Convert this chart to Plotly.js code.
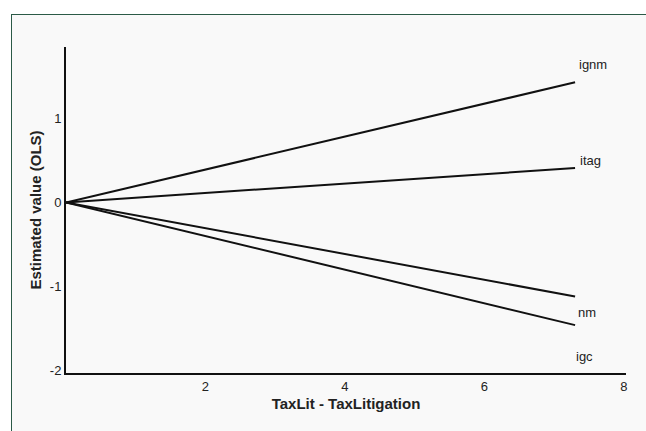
<!DOCTYPE html>
<html>
<head>
<meta charset="utf-8">
<script src="https://cdn.plot.ly/plotly-3.0.1.min.js"></script>
<style>
  html, body { margin:0; padding:0; background:#ffffff; }
  #frame { position:absolute; left:11px; top:14px; width:700px; height:500px; border:1.5px solid #2b5a47; background:#f9f9f9; }
  #chart { position:absolute; left:0; top:0; width:646px; height:431px; }
</style>
</head>
<body>
<div id="frame"></div>
<div id="chart"></div>
<script>
// Data
const seriesNames = ["ignm", "itag", "nm", "igc"];
const xValues = [0, 7.3];
const ignmValues = [0, 1.43];
const itagValues = [0, 0.41];
const nmValues = [0, -1.12];
const igcValues = [0, -1.46];
const labelX = [7.56, 7.52, 7.47, 7.44];
const labelY = [1.64, 0.5, -1.31, -1.83];
const xTicks = [2, 4, 6, 8];
const yTicks = [-2, -1, 0, 1];

const FONT = "Liberation Sans, Arial, sans-serif";
const allValues = [ignmValues, itagValues, nmValues, igcValues];
const traces = allValues.map((v, i) => ({
  x: xValues, y: v, type: "scatter", mode: "lines", name: seriesNames[i],
  line: { color: "#111111", width: 2 }, hoverinfo: "skip"
}));

const annotations = seriesNames.map((n, i) => ({
  x: labelX[i], y: labelY[i], xref: "x", yref: "y", text: n, showarrow: false,
  font: { family: FONT, size: 13, color: "#222222" }
}));

const layout = {
  width: 646, height: 431,
  paper_bgcolor: "rgba(0,0,0,0)", plot_bgcolor: "rgba(0,0,0,0)",
  margin: { l: 66, r: 20, t: 47, b: 58 },
  showlegend: false,
  xaxis: {
    range: [0, 8.03], tickvals: xTicks, ticktext: xTicks.map(String),
    showgrid: false, zeroline: false, showline: true, linecolor: "#111111", linewidth: 2,
    ticks: "", ticklen: 0,
    tickfont: { family: FONT, size: 13, color: "#222222" },
    title: { text: "<b>TaxLit - TaxLitigation</b>", standoff: 6,
      font: { family: FONT, size: 15, color: "#222222" } }
  },
  yaxis: {
    range: [-2.03, 1.85], tickvals: yTicks, ticktext: yTicks.map(String),
    showgrid: false, zeroline: false, showline: true, linecolor: "#111111", linewidth: 2,
    ticks: "", ticklen: 0,
    tickfont: { family: FONT, size: 13, color: "#222222" },
    title: { text: "<b>Estimated value (OLS)</b>", standoff: 5,
      font: { family: FONT, size: 15, color: "#222222" } }
  },
  annotations: annotations
};

Plotly.newPlot("chart", traces, layout, { displayModeBar: false, staticPlot: true });
</script>
</body>
</html>
